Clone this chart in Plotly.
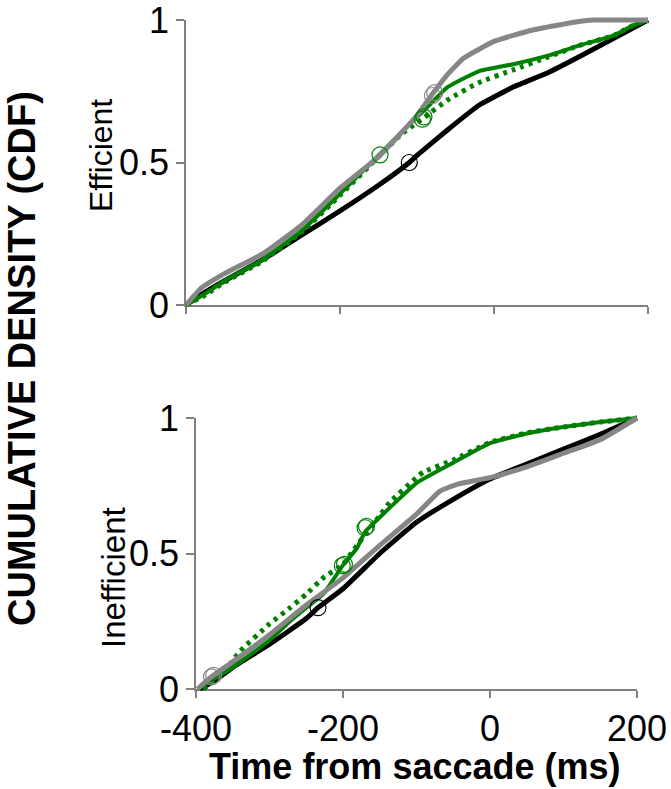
import plotly.graph_objects as go

# ---------------- data (time from saccade in ms, cumulative density) ----------------
# Efficient search
eff_black_x = [-400, -375, -350, -300, -250, -200, -150, -110, -100, -60, -20, 25, 70, 110, 155, 200]
eff_black_y = [0, 0.045, 0.085, 0.16, 0.245, 0.33, 0.42, 0.50, 0.525, 0.615, 0.70, 0.765, 0.815, 0.87, 0.935, 1.0]

eff_gray_x = [-400, -380, -350, -300, -250, -200, -150, -100, -80, -60, -40, 0, 50, 110, 130, 200]
eff_gray_y = [0, 0.06, 0.11, 0.18, 0.28, 0.41, 0.52, 0.665, 0.74, 0.81, 0.865, 0.925, 0.965, 0.995, 1.0, 1.0]

eff_green_x = [-400, -375, -350, -300, -250, -200, -150, -100, -90, -60, -20, 25, 70, 110, 155, 180, 200]
eff_green_y = [0, 0.04, 0.085, 0.16, 0.26, 0.39, 0.525, 0.66, 0.685, 0.765, 0.82, 0.845, 0.875, 0.91, 0.945, 0.98, 1.0]

eff_dot_x = [-400, -375, -350, -300, -250, -200, -150, -120, -92, -60, -20, 25, 70, 110, 155, 180, 200]
eff_dot_y = [0, 0.035, 0.08, 0.155, 0.255, 0.385, 0.52, 0.60, 0.655, 0.72, 0.78, 0.825, 0.87, 0.91, 0.945, 0.98, 1.0]

eff_black_mark_x = [-110]
eff_black_mark_y = [0.50]
eff_gray_mark_x = [-80, -77]
eff_gray_mark_y = [0.735, 0.745]
eff_green_mark_x = [-148, -93, -91]
eff_green_mark_y = [0.527, 0.652, 0.66]

# Inefficient search
ineff_black_x = [-395, -375, -350, -300, -250, -234, -200, -150, -100, -50, 0, 50, 100, 150, 200]
ineff_black_y = [0, 0.03, 0.08, 0.165, 0.26, 0.30, 0.37, 0.50, 0.615, 0.70, 0.775, 0.83, 0.885, 0.94, 1.0]

ineff_gray_x = [-398, -379, -350, -300, -250, -200, -150, -100, -68, -45, 0, 50, 100, 150, 200]
ineff_gray_y = [0, 0.045, 0.10, 0.20, 0.31, 0.41, 0.53, 0.645, 0.73, 0.755, 0.78, 0.82, 0.87, 0.92, 1.0]

ineff_green_x = [-398, -350, -300, -272, -250, -227, -200, -181, -170, -159, -136, -100, -50, 0, 50, 100, 150, 200]
ineff_green_y = [0, 0.08, 0.18, 0.25, 0.30, 0.35, 0.457, 0.52, 0.58, 0.61, 0.67, 0.76, 0.835, 0.907, 0.943, 0.967, 0.985, 1.0]

ineff_dot_x = [-390, -360, -340, -300, -272, -250, -227, -200, -181, -150, -136, -100, -91, -50, 0, 50, 100, 150, 200]
ineff_dot_y = [0, 0.07, 0.14, 0.24, 0.30, 0.35, 0.41, 0.46, 0.53, 0.64, 0.69, 0.78, 0.80, 0.845, 0.91, 0.945, 0.967, 0.985, 1.0]

ineff_black_mark_x = [-234]
ineff_black_mark_y = [0.30]
ineff_gray_mark_x = [-379, -376]
ineff_gray_mark_y = [0.045, 0.05]
ineff_green_mark_x = [-201, -198, -170, -168]
ineff_green_mark_y = [0.455, 0.46, 0.595, 0.60]

x_ticks = [-400, -200, 0, 200]
x_tick_text = ["-400", "-200", "0", "200"]
y_ticks = [0, 0.5, 1]
y_tick_text = ["0", "0.5", "1"]
x_range = [-400, 200]
y_range = [0, 1]

panel_names = ["Efficient", "Inefficient"]
x_title = "Time from saccade (ms)"
y_title = "CUMULATIVE DENSITY (CDF)"

# ---------------- styling / geometry ----------------
W, H = 671, 789
FONT = "Liberation Sans, Arial, sans-serif"
AXIS_GRAY = "#808080"
GREEN = "#008000"
GRAY = "#868686"
BLACK = "#000000"
TICK_SIZE = 36

# plot-area boxes in pixels: (left, right, top(y=1), bottom(y=0))
boxes = [(186, 648, 20, 305), (196, 637, 418, 689)]
PAD = 6  # extra room so thick lines at the edges are not clipped


def xdom(l, r):
    return [l / W, r / W]


def ydom(t, b):
    return [1 - b / H, 1 - t / H]


fig = go.Figure()
layout = dict(
    template="none",
    width=W, height=H,
    margin=dict(l=0, r=0, t=0, b=0, pad=0, autoexpand=False),
    paper_bgcolor="white", plot_bgcolor="rgba(0,0,0,0)",
    showlegend=False,
    font=dict(family=FONT, color="black"),
)

panels = [
    dict(lines=[(eff_black_x, eff_black_y, BLACK, 5, "solid"),
                (eff_dot_x, eff_dot_y, GREEN, 5, "4px,5px"),
                (eff_green_x, eff_green_y, GREEN, 4, "solid"),
                (eff_gray_x, eff_gray_y, GRAY, 5, "solid")],
         marks=[(eff_black_mark_x, eff_black_mark_y, BLACK),
                (eff_gray_mark_x, eff_gray_mark_y, GRAY),
                (eff_green_mark_x, eff_green_mark_y, GREEN)]),
    dict(lines=[(ineff_black_x, ineff_black_y, BLACK, 5, "solid"),
                (ineff_dot_x, ineff_dot_y, GREEN, 5, "4px,5px"),
                (ineff_green_x, ineff_green_y, GREEN, 4, "solid"),
                (ineff_gray_x, ineff_gray_y, GRAY, 5, "solid")],
         marks=[(ineff_black_mark_x, ineff_black_mark_y, BLACK),
                (ineff_gray_mark_x, ineff_gray_mark_y, GRAY),
                (ineff_green_mark_x, ineff_green_mark_y, GREEN)]),
]

for i, (panel, box) in enumerate(zip(panels, boxes)):
    l, r, t, b = box
    sx = (r - l) / (x_range[1] - x_range[0])
    sy = (b - t) / (y_range[1] - y_range[0])
    fa = 2 * i + 1  # visible frame axes
    da = 2 * i + 2  # hidden data axes: same scale, slightly larger area
    fx, fy = f"xaxis{fa}", f"yaxis{fa}"
    dx, dy = f"xaxis{da}", f"yaxis{da}"
    layout[fx] = dict(domain=xdom(l, r), range=x_range, anchor=f"y{fa}",
                      automargin=False, ticklabeloverflow="allow",
                      showline=True, linecolor=AXIS_GRAY, linewidth=1.5,
                      ticks="outside", ticklen=7, tickwidth=1.5, tickcolor=AXIS_GRAY,
                      tickvals=x_ticks, ticktext=x_tick_text,
                      showticklabels=(i == 1), tickfont=dict(size=TICK_SIZE, color="black"),
                      showgrid=False, zeroline=False, fixedrange=True)
    layout[fy] = dict(domain=ydom(t, b), range=y_range, anchor=f"x{fa}",
                      automargin=False, ticklabeloverflow="allow",
                      showline=True, linecolor=AXIS_GRAY, linewidth=1.5,
                      ticks="outside", ticklen=8, tickwidth=1.5, tickcolor=AXIS_GRAY,
                      tickvals=y_ticks, ticktext=y_tick_text,
                      tickfont=dict(size=TICK_SIZE, color="black"),
                      showgrid=False, zeroline=False, fixedrange=True)
    layout[dx] = dict(domain=xdom(l - PAD, r + PAD),
                      range=[x_range[0] - PAD / sx, x_range[1] + PAD / sx],
                      anchor=f"y{da}", visible=False, automargin=False, fixedrange=True)
    layout[dy] = dict(domain=ydom(t - PAD, b + PAD),
                      range=[y_range[0] - PAD / sy, y_range[1] + PAD / sy],
                      anchor=f"x{da}", visible=False, automargin=False, fixedrange=True)

    fig.add_trace(go.Scatter(x=[None], y=[None], xaxis=f"x{fa}", yaxis=f"y{fa}",
                             mode="lines", hoverinfo="skip"))
    for xs, ys, col, w, dash in panel["lines"]:
        fig.add_trace(go.Scatter(x=xs, y=ys, xaxis=f"x{da}", yaxis=f"y{da}",
                                 mode="lines",
                                 line=dict(color=col, width=w, dash=dash, shape="spline",
                                           smoothing=0.4),
                                 hoverinfo="skip"))
    for xs, ys, col in panel["marks"]:
        fig.add_trace(go.Scatter(x=xs, y=ys, xaxis=f"x{da}", yaxis=f"y{da}",
                                 mode="markers",
                                 marker=dict(symbol="circle-open", size=16,
                                             color=col, line=dict(width=1.2, color=col)),
                                 hoverinfo="skip"))

annotations = [
    dict(text=f"<b>{y_title}</b>", x=22 / W, y=1 - 359 / H, xref="paper", yref="paper",
         textangle=-90, showarrow=False, font=dict(size=38, family=FONT, color="black"),
         xanchor="center", yanchor="middle"),
    dict(text=f"<b>{x_title}</b>", x=415 / W, y=1 - 766 / H, xref="paper", yref="paper",
         showarrow=False, font=dict(size=36, family=FONT, color="black"),
         xanchor="center", yanchor="middle"),
    dict(text=panel_names[0], x=101 / W, y=1 - 156 / H, xref="paper", yref="paper",
         textangle=-90, showarrow=False, font=dict(size=32, family=FONT, color="black"),
         xanchor="center", yanchor="middle"),
    dict(text=panel_names[1], x=113 / W, y=1 - 578 / H, xref="paper", yref="paper",
         textangle=-90, showarrow=False, font=dict(size=33, family=FONT, color="black"),
         xanchor="center", yanchor="middle"),
]
layout["annotations"] = annotations

fig.update_layout(**layout)
fig.write_html("out.html")
